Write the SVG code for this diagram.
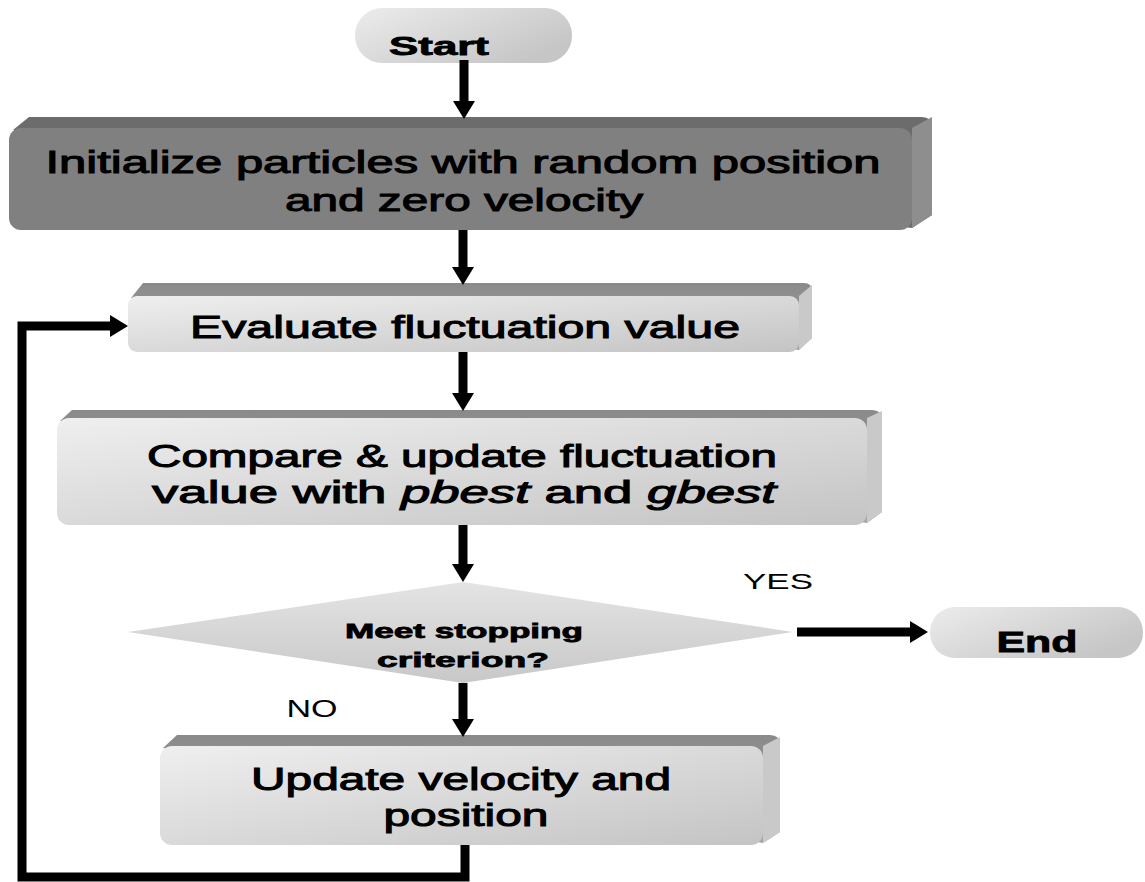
<svg xmlns="http://www.w3.org/2000/svg" width="1145" height="882" viewBox="0 0 1145 882">
<style>
.t{font-family:"Liberation Sans",Arial,sans-serif;font-weight:normal;fill:#000;stroke:#000;stroke-width:1;}
.h{font-family:"Liberation Sans",Arial,sans-serif;font-weight:bold;fill:#000;stroke:#000;stroke-width:0.8;}
.l{font-family:"Liberation Sans",Arial,sans-serif;font-weight:normal;fill:#000;}
.ln{fill:none;stroke:#000;stroke-width:9;}
.top{fill:url(#gTop);}
.side{fill:#c9c9c9;}
.face{fill:url(#gFace);}
</style>
<defs>
<linearGradient id="gFace" x1="0" y1="0" x2="1" y2="1">
<stop offset="0" stop-color="#efefef"/>
<stop offset="1" stop-color="#c4c4c4"/>
</linearGradient>
<linearGradient id="gTop" x1="0" y1="0" x2="0" y2="1">
<stop offset="0" stop-color="#8a8a8a"/>
<stop offset="1" stop-color="#a6a6a6"/>
</linearGradient>
<linearGradient id="gPill" x1="0" y1="0" x2="1" y2="0.6">
<stop offset="0" stop-color="#ececec"/>
<stop offset="1" stop-color="#c6c6c6"/>
</linearGradient>
<linearGradient id="gDia" x1="0" y1="0" x2="0" y2="1">
<stop offset="0" stop-color="#e4e4e4"/>
<stop offset="1" stop-color="#c8c8c8"/>
</linearGradient>
<marker id="ah" viewBox="0 0 18 22" refX="0" refY="11" markerWidth="18" markerHeight="22" markerUnits="userSpaceOnUse" orient="auto">
<path d="M0,0 L18,11 L0,22 Z" fill="#000"/>
</marker>
</defs>

<g id="start">
<rect x="355" y="8" width="217" height="55" rx="27" fill="url(#gPill)"/>
<text class="h" x="439" y="55" font-size="25" text-anchor="middle" textLength="100" lengthAdjust="spacingAndGlyphs">Start</text>
</g>

<g id="init">
<path d="M13,130 L29,117 L922,117 Q932,117 932,127 L932,215 L912,228 Z" fill="#6c6c6c"/>
<path d="M912,128 L932,117 L932,215 L912,228 Z" fill="#8e8e8e"/>
<rect x="9" y="128" width="903" height="102" rx="12" fill="#808080"/>
<text class="t" x="463" y="173" font-size="31" text-anchor="middle" textLength="835" lengthAdjust="spacingAndGlyphs">Initialize particles with random position</text>
<text class="t" x="464" y="211" font-size="31" text-anchor="middle" textLength="358" lengthAdjust="spacingAndGlyphs">and zero velocity</text>
</g>

<g id="evaluate">
<path d="M131,298 L143,283 L804,283 Q812,283 812,291 L812,338 L799,350 Z" class="top"/>
<path d="M799,296 L812,285 L812,338 L799,350 Z" class="side"/>
<rect x="128" y="296" width="671" height="56" rx="9" class="face"/>
<text class="t" x="465" y="338" font-size="31" text-anchor="middle" textLength="550" lengthAdjust="spacingAndGlyphs">Evaluate fluctuation value</text>
</g>

<g id="compare">
<path d="M60,421 L72,410 L872,410 Q882,410 882,420 L882,512 L867,523 Z" class="top"/>
<path d="M867,418 L882,411 L882,512 L867,523 Z" class="side"/>
<rect x="57" y="418" width="810" height="107" rx="12" class="face"/>
<text class="t" x="462" y="467" font-size="31" text-anchor="middle" textLength="630" lengthAdjust="spacingAndGlyphs">Compare &amp; update fluctuation</text>
<text class="t" x="464" y="503" font-size="31" text-anchor="middle" textLength="624" lengthAdjust="spacingAndGlyphs">value with <tspan font-style="italic">pbest</tspan> and <tspan font-style="italic">gbest</tspan></text>
</g>

<g id="decision">
<polygon points="128,632 463,582 793,632 463,683" fill="url(#gDia)"/>
<text class="h" x="464" y="638" font-size="21" text-anchor="middle" textLength="238" lengthAdjust="spacingAndGlyphs">Meet stopping</text>
<text class="h" x="463" y="667" font-size="21" text-anchor="middle" textLength="172" lengthAdjust="spacingAndGlyphs">criterion?</text>
</g>

<g id="update">
<path d="M163,748 L177,735 L770,735 Q780,735 780,745 L780,832 L763,843 Z" class="top"/>
<path d="M763,746 L780,737 L780,832 L763,843 Z" class="side"/>
<rect x="160" y="746" width="603" height="99" rx="12" class="face"/>
<text class="t" x="461" y="790" font-size="31" text-anchor="middle" textLength="420" lengthAdjust="spacingAndGlyphs">Update velocity and</text>
<text class="t" x="466" y="826" font-size="31" text-anchor="middle" textLength="165" lengthAdjust="spacingAndGlyphs">position</text>
</g>

<g id="end">
<rect x="930" y="607" width="213" height="51" rx="25" fill="url(#gPill)"/>
<text class="h" x="1037" y="652" font-size="29" text-anchor="middle" textLength="81" lengthAdjust="spacingAndGlyphs">End</text>
</g>

<g id="labels">
<text class="l" x="778" y="589" font-size="22" text-anchor="middle" textLength="70" lengthAdjust="spacingAndGlyphs">YES</text>
<text class="l" x="312" y="717" font-size="23" text-anchor="middle" textLength="51" lengthAdjust="spacingAndGlyphs">NO</text>
</g>

<g id="connectors">
<line class="ln" x1="464" y1="60" x2="464" y2="101" marker-end="url(#ah)"/>
<line class="ln" x1="463" y1="230" x2="463" y2="267" marker-end="url(#ah)"/>
<line class="ln" x1="463" y1="352" x2="463" y2="393" marker-end="url(#ah)"/>
<line class="ln" x1="463" y1="525" x2="463" y2="564" marker-end="url(#ah)"/>
<line class="ln" x1="463" y1="683" x2="463" y2="719" marker-end="url(#ah)"/>
<line class="ln" x1="797" y1="632" x2="910" y2="632" marker-end="url(#ah)"/>
<polyline class="ln" points="465,845 465,877 22,877 22,326 110,326" marker-end="url(#ah)"/>
</g>
</svg>
